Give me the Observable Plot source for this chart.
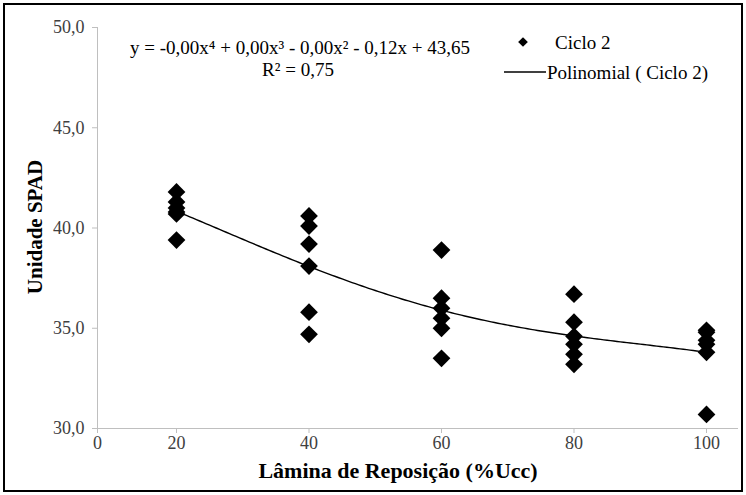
<!DOCTYPE html>
<html><head><meta charset="utf-8">
<script src="https://cdn.jsdelivr.net/npm/d3@7"></script>
<script src="https://cdn.jsdelivr.net/npm/@observablehq/plot@0.6"></script>
<style>
body{margin:0;background:#fff;}
#wrap{position:relative;width:746px;height:495px;overflow:hidden;}
#border{position:absolute;left:3px;top:3px;width:736px;height:485px;border:2px solid #000;pointer-events:none;}
svg{display:block;}
svg text{font-family:"Liberation Serif","Times New Roman",serif !important;}
</style></head><body><div id="wrap"><div id="chart"></div><div id="border"></div></div>
<script>
// Data
const lamina = [20,20,20,20,20,20, 40,40,40,40,40,40, 60,60,60,60,60,60, 80,80,80,80,80,80, 100,100,100,100,100,100];
const spad   = [41.8,41.3,41.0,40.8,40.7,39.4, 40.6,40.1,39.2,38.1,35.8,34.7, 38.9,36.5,36.0,35.5,35.0,33.5, 36.7,35.3,34.6,34.2,33.7,33.2, 34.9,34.8,34.4,34.2,33.8,30.7];
const xTicks = [0,20,40,60,80,100];
const yTicks = [30,35,40,45,50];
const seriesName = "Ciclo 2";
const trendName = "Polinomial ( Ciclo 2)";
const equation = "y = -0,00x⁴ + 0,00x³ - 0,00x² - 0,12x + 43,65";
const r2text = "R² = 0,75";
const xTitle = "Lâmina de Reposição (%Ucc)";
const yTitle = "Unidade SPAD";

const points = lamina.map((x,i)=>({x, y: spad[i]}));

// 4th-degree least-squares polynomial trend (x scaled by 1/100)
function polyfit(xs, ys, deg){
  const n = deg+1;
  const A = Array.from({length:n},()=>new Array(n).fill(0));
  const b = new Array(n).fill(0);
  xs.forEach((x,k)=>{
    const t = x/100;
    for(let i=0;i<n;i++){
      b[i] += ys[k]*Math.pow(t,i);
      for(let j=0;j<n;j++) A[i][j] += Math.pow(t,i+j);
    }
  });
  for(let c=0;c<n;c++){
    let p=c;
    for(let r=c+1;r<n;r++){ if(Math.abs(A[r][c])>Math.abs(A[p][c])) p=r; }
    const tmpA=A[c]; A[c]=A[p]; A[p]=tmpA;
    const tmpb=b[c]; b[c]=b[p]; b[p]=tmpb;
    for(let r=c+1;r<n;r++){const fct=A[r][c]/A[c][c]; for(let j=c;j<n;j++) A[r][j]-=fct*A[c][j]; b[r]-=fct*b[c];}
  }
  const co=new Array(n).fill(0);
  for(let i=n-1;i>=0;i--){let s=b[i]; for(let j=i+1;j<n;j++) s-=A[i][j]*co[j]; co[i]=s/A[i][i];}
  return x=>{const t=x/100; return co.reduce((s,c,i)=>s+c*Math.pow(t,i),0);};
}
const f = polyfit(lamina, spad, 4);
const curve = d3.range(20, 100.001, 0.5).map(x=>({x, y:f(x)}));

const font = "'Liberation Serif','Times New Roman',serif";
const fmt = d=>d.toFixed(1).replace(".",",");
// the reference axis compresses the 0–20 stretch
const squeeze = 79/132.5;
const xT = v => v < 20 ? 20 - (20 - v)*squeeze : v;
const xInv = v => v < 20 ? 20 - (20 - v)/squeeze : v;

const plot = Plot.plot({
  width: 746, height: 495,
  marginLeft: 97, marginTop: 27, marginBottom: 67, marginRight: 8,
  style: {fontFamily: font, fontSize: "18px", background: "#fff", color:"#404040"},
  x: {transform: xT, domain: [xT(0), 104.83]},
  y: {domain: [30,50]},
  marks: [
    Plot.ruleY([30], {stroke:"#bfbfbf", strokeWidth:1}),
    Plot.axisY({ticks: yTicks, tickFormat: fmt, tickSize: 5, tickPadding: 8, label: null, stroke:"#bfbfbf", fill:"#404040"}),
    Plot.axisX({ticks: xTicks.map(xT), tickFormat: d=>String(Math.round(xInv(d))), tickSize: 5, tickPadding: 3, label: null, stroke:"#bfbfbf", fill:"#404040"}),
    Plot.ruleX([0], {stroke:"#bfbfbf", strokeWidth:1}),
    Plot.dot(points, {x:"x", y:"y", symbol:"diamond2", r:8, fill:"#000", stroke:"none"}),
    Plot.line(curve, {x:"x", y:"y", stroke:"#000", strokeWidth:1.4})
  ]
});
document.getElementById("chart").appendChild(plot);

const svg = d3.select(plot);
const g = svg.append("g").attr("fill","#000");
function txt(x,y,s,size,anchor,weight){
  return g.append("text").attr("x",x).attr("y",y).attr("text-anchor",anchor||"middle")
    .attr("dominant-baseline","central").attr("font-size",size+"px").attr("font-weight",weight||"normal")
    .style("font-family",font).text(s);
}
// equation
txt(300,47,equation,19);
txt(298,69,r2text,19);
// legend
g.append("path").attr("d", d3.symbol(d3.symbolDiamond2, 60)()).attr("transform","translate(523,42)").attr("fill","#000");
txt(555,42,seriesName,19,"start");
g.append("line").attr("x1",504).attr("x2",546).attr("y1",72).attr("y2",72).attr("stroke","#000").attr("stroke-width",1.4);
txt(547,72,trendName,19,"start");
// axis titles
txt(398,470,xTitle,22,"middle","bold");
txt(0,0,yTitle,21,"middle","bold").attr("x",null).attr("y",null).attr("transform","translate(35,227) rotate(-90)");
</script>
</body></html>
